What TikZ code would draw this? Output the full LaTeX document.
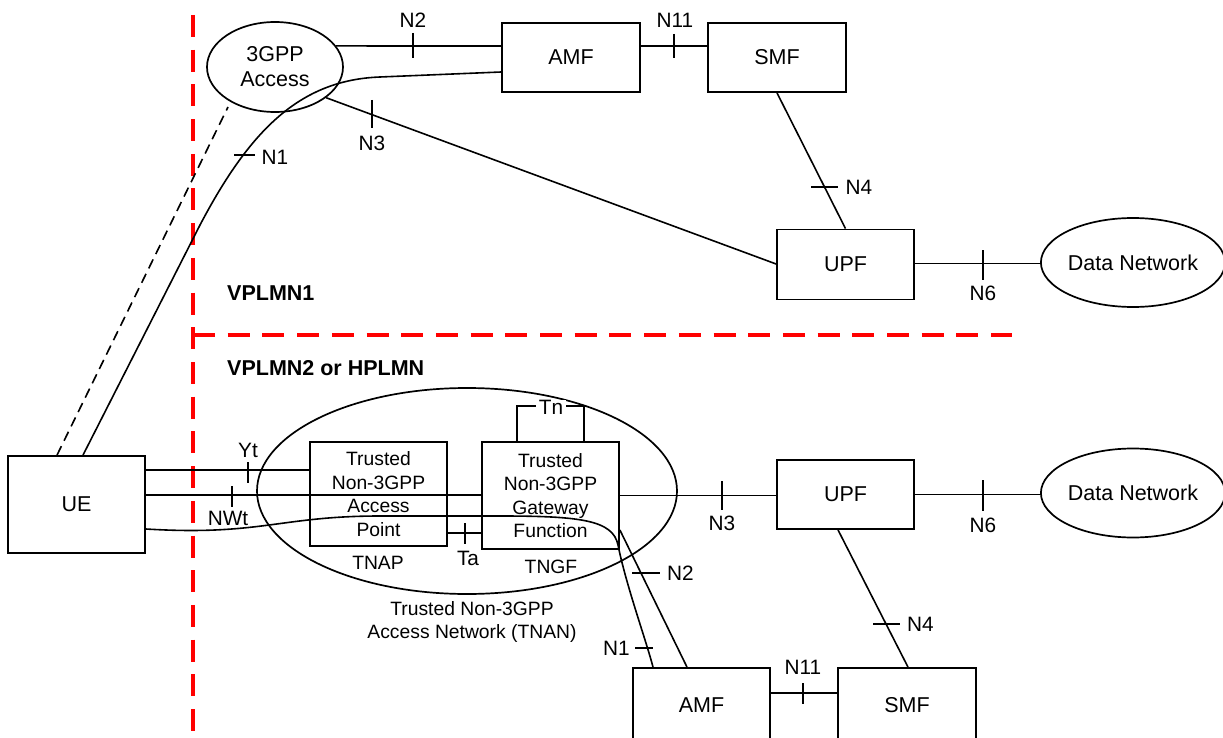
\documentclass[tikz,border=0pt]{standalone}
\usepackage{fontspec}
\setmainfont{Liberation Sans}
\usetikzlibrary{calc,shapes.geometric}
\newcommand\fsmain{\fontsize{21.5}{25}\selectfont}
\newcommand\fssmall{\fontsize{19.3}{23.5}\selectfont}
\newcommand\fstick{\fontsize{20.8}{24}\selectfont}
\tikzset{
  ln/.style={line width=1.6pt, black},
  boxnode/.style={draw, line width=1.8pt, minimum width=137pt, minimum height=69pt, inner sep=0pt, font=\fsmain, align=center},
  smallbox/.style={boxnode, font=\fssmall},
  ellnode/.style={draw, ellipse, line width=1.7pt, inner sep=0pt, font=\fsmain, align=center},
  ticklbl/.style={font=\fstick, inner sep=0pt},
  smalllbl/.style={font=\fssmall, inner sep=0pt, align=center},
  plmnlbl/.style={font=\fsmain\bfseries, inner sep=0pt, anchor=west},
  reddash/.style={red, line width=3.6pt, dash pattern=on 22pt off 12.7pt},
  blkdash/.style={ln, dash pattern=on 10pt off 6pt}
}
\begin{document}
\begin{tikzpicture}[x=1pt,y=-1pt]
\useasboundingbox (0,0) rectangle (1223,738);
\fill[white] (0,0) rectangle (1223,738);

% ---------- nodes ----------
\node[ellnode, minimum width=136pt, minimum height=90pt] (acc3) at (275,67) {3GPP\\Access};
\node[boxnode, minimum width=138pt] (amf1) at (571,57.5) {AMF};
\node[boxnode, minimum width=138pt] (smf1) at (777,57.5) {SMF};
\node[boxnode, minimum height=70pt] (upf1) at (845.5,264.5) {UPF};
\node[ellnode, minimum width=178pt, minimum height=89pt] (dn1) at (1133,262.5) {Data Network};

\node[ellnode, minimum width=420pt, minimum height=206pt] (tnan) at (467,491) {};
\node[boxnode, minimum height=97pt] (ue) at (76.5,504.5) {UE};
\node[smallbox, minimum height=104pt] (tnap) at (378.5,494) {Trusted\\Non-3GPP\\Access\\Point};
\node[smallbox, minimum height=107pt] (tngf) at (550.5,495.5) {Trusted\\Non-3GPP\\Gateway\\Function};
\node[boxnode] (upf2) at (845.5,494.5) {UPF};
\node[ellnode, minimum width=178pt, minimum height=89pt] (dn2) at (1133,493) {Data Network};
\node[boxnode, minimum height=74pt] (amf2) at (701.5,705) {AMF};
\node[boxnode, minimum width=138pt, minimum height=74pt] (smf2) at (907,705) {SMF};

% ---------- red domain borders ----------
\draw[reddash] (193,15) -- (193,738);
\draw[reddash] (193,335) -- (1012,335);
\node[plmnlbl] (v1) at (227,293) {VPLMN1};
\node[plmnlbl] (v2) at (227,368) {VPLMN2 or HPLMN};

% ---------- top connectors ----------
\coordinate (n2a) at ($(amf1.west)+(0,-11.5)$);
\draw[ln] (acc3.19) -- (n2a);
\coordinate (n11a) at ($(amf1.east)+(0,-11.5)$);
\draw[ln] (n11a) -- (n11a -| smf1.west);
\draw[ln] (acc3.-31) -- ($(upf1.west)+(0,-0.5)$);
\draw[ln] (smf1.south) -- (upf1.north);
\coordinate (n6a) at ($(upf1.east)+(0,-1)$);
\draw[ln] (n6a) -- (n6a -| dn1.west);
\coordinate (dashend) at (228,107);
\draw[blkdash] ($(ue.north)+(-19.5,0)$) -- (dashend);
\draw[ln] ($(ue.north)+(6.5,0)$) -- (200,225) .. controls (250,130) and (300,80) .. (380,77) -- ($(amf1.west)+(0,14.5)$);

% ---------- bottom connectors ----------
\coordinate (yt) at ($(ue.east)+(0,-34.5)$);
\draw[ln] (yt) -- (yt -| tnap.west);
\coordinate (nwt) at ($(ue.east)+(0,-9.5)$);
\draw[ln] (nwt) -- (nwt -| tngf.west);
\draw[ln] (tngf.east) -- (tngf.east -| upf2.west);
\draw[ln] (upf2.east) -- (upf2.east -| dn2.west);
\coordinate (ta) at ($(tnap.east)+(0,39)$);
\draw[ln] (ta) -- (ta -| tngf.west);
\draw[ln] ($(tngf.east)+(0,34.5)$) -- ($(amf2.north)+(-14.5,0)$);
\draw[ln] ($(ue.east)+(0,24.5)$) .. controls (260,536) and (280,516) .. (380,516) -- (500,516)
   .. controls (580,516) and (613,520) .. (618,545) .. controls (626,585) and (646,640) .. ($(amf2.north)+(-48.5,0)$);
\draw[ln] ($(upf2.south)+(-7.5,0)$) -- ($(smf2.north)+(1,0)$);
\coordinate (n11b) at ($(amf2.east)+(0,-12)$);
\draw[ln] (n11b) -- (n11b -| smf2.west);
% Tn loop
\draw[ln] ($(tngf.north)+(-33.5,0)$) -- ++(0,-35) -- ++(67,0) -- ++(0,35);
\node[ticklbl, fill=white, inner xsep=3pt] (tn) at (551,407) {Tn};

% ---------- ticks ----------
\draw[ln] (413,33) -- (413,58);
\draw[ln] (674,34) -- (674,58);
\draw[ln] (372,100) -- (372,128);
\draw[ln] (234,155) -- (255,155);
\draw[ln] (811,187) -- (838,187);
\draw[ln] (983,250) -- (983,280);
\draw[ln] (248,462) -- (248,483);
\draw[ln] (232,486) -- (232,507);
\draw[ln] (465,523) -- (465,544);
\draw[ln] (722,481) -- (722,510);
\draw[ln] (983,480) -- (983,511);
\draw[ln] (632,573) -- (660,573);
\draw[ln] (635,648) -- (653,648);
\draw[ln] (873,624) -- (900,624);
\draw[ln] (803,683) -- (803,704);

% ---------- tick labels ----------
\node[ticklbl] (l1) at (413,20) {N2};
\node[ticklbl] (l2) at (675,20) {N11};
\node[ticklbl] (l3) at (372,143) {N3};
\node[ticklbl] (l4) at (275,157) {N1};
\node[ticklbl] (l5) at (859,187) {N4};
\node[ticklbl] (l6) at (983,293) {N6};
\node[ticklbl] (l7) at (248,450) {Yt};
\node[ticklbl] (l8) at (228,518) {NWt};
\node[ticklbl] (l9) at (468,558) {Ta};
\node[ticklbl] (l10) at (722,523) {N3};
\node[ticklbl] (l11) at (983,525) {N6};
\node[ticklbl, anchor=west] (l12) at (667,573) {N2};
\node[ticklbl, anchor=east] (l13) at (630,648) {N1};
\node[ticklbl, anchor=west] (l14) at (907,624) {N4};
\node[ticklbl] (l15) at (803,667) {N11};

\node[smalllbl] (tnapl) at (378,563) {TNAP};
\node[smalllbl] (tngfl) at (551,567) {TNGF};
\node[smalllbl] (tnanl) at (472,622) {Trusted Non-3GPP\\Access Network (TNAN)};
\end{tikzpicture}
\end{document}
